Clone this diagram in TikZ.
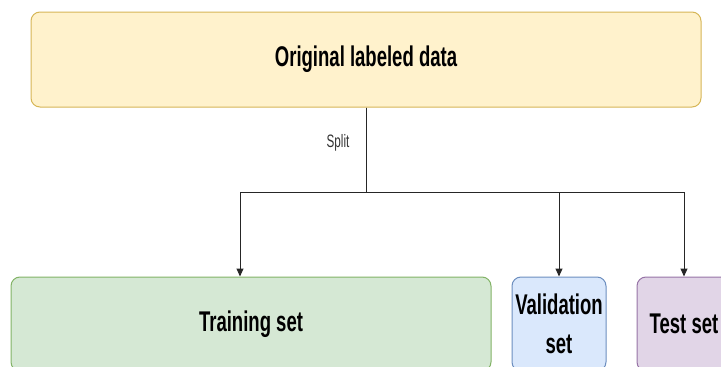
\documentclass[tikz,border=0pt]{standalone}
\usepackage{fontspec}
\usetikzlibrary{arrows.meta}
\newfontfamily\diofont[FakeStretch=0.65]{Liberation Sans}
\definecolor{dataFill}{HTML}{FFF2CC}
\definecolor{dataLine}{HTML}{D6B656}
\definecolor{trainFill}{HTML}{D5E8D4}
\definecolor{trainLine}{HTML}{82B366}
\definecolor{validFill}{HTML}{DAE8FC}
\definecolor{validLine}{HTML}{6C8EBF}
\definecolor{testFill}{HTML}{E1D5E7}
\definecolor{testLine}{HTML}{9673A6}
\begin{document}
\begin{tikzpicture}[x=1pt,y=-1pt,
    box/.style={draw, rounded corners=9pt, line width=1pt, inner sep=0pt,
        minimum height=94pt, align=center,
        font=\diofont\bfseries\fontsize{28.5}{39}\selectfont},
    link/.style={draw=black!85, line width=1pt,
        -{Triangle[length=8pt,width=7pt]}}]
    \useasboundingbox (0,0) rectangle (721,367);
    \clip (0,0) rectangle (721,367);

    % Draw the labeled data on top
    \node[box, draw=dataLine, fill=dataFill, minimum width=670pt, minimum height=95pt]
        (data) at (366,59.5) {Original labeled data};

    % Draw the three sets
    \node[box, draw=trainLine, fill=trainFill, minimum width=480pt] (train) at (251,324) {Training set};
    \node[box, draw=validLine, fill=validFill, minimum width=94pt] (valid) at (559,324) {Validation\\set};
    \node[box, draw=testLine, fill=testFill, minimum width=94pt] (test) at (684,324) {Test set};

    % Draw the split
    \coordinate (fork) at (366,192);
    \foreach \set/\dx in {train/-11, valid/0, test/0} {
        \draw[link] (data.south) -- (fork) -| ([xshift=\dx pt]\set.north);
    }
    \node[font=\diofont\fontsize{18}{21}\selectfont, text=black!80] (split) at (338,143) {Split};
\end{tikzpicture}
\end{document}
